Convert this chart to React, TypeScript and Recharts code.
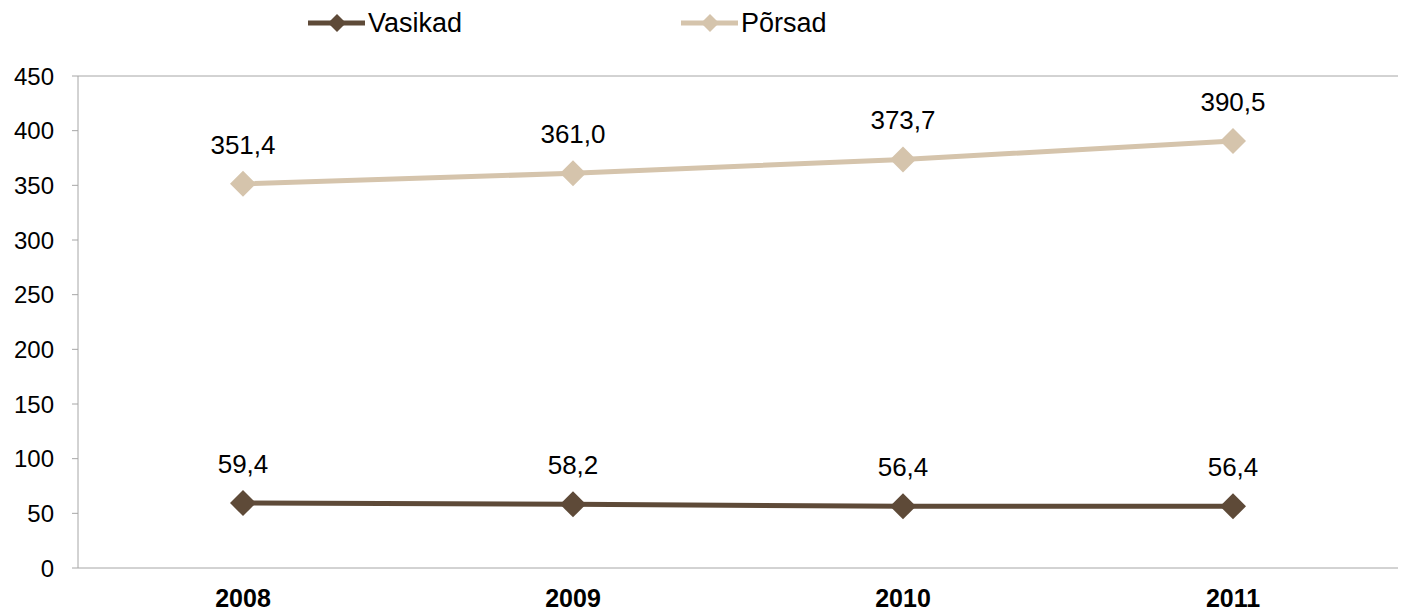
import React from 'react';
import { LineChart, Line, XAxis, YAxis, LabelList, ReferenceLine } from 'recharts';

const years = ['2008', '2009', '2010', '2011'];
const vasikad = [59.4, 58.2, 56.4, 56.4];
const porsad = [351.4, 361.0, 373.7, 390.5];
const yTicks = [0, 50, 100, 150, 200, 250, 300, 350, 400, 450];
const seriesNames = ['Vasikad', 'Põrsad'];

const data = years.map((year, i) => ({ year, Vasikad: vasikad[i], 'Põrsad': porsad[i] }));

const DARK = '#5E4A38';
const LIGHT = '#D5C4AC';
const AXIS = '#A6A6A6';
const FONT = '"Liberation Sans", Arial, sans-serif';
const colors = [DARK, LIGHT];

const Diamond = (color: string) => (props: any) => {
    const { cx, cy } = props;
    if (cx == null || cy == null) return null;
    const r = 13;
    return (
        <polygon
            key={`${cx}-${cy}`}
            points={`${cx},${cy - r} ${cx + r},${cy} ${cx},${cy + r} ${cx - r},${cy}`}
            fill={color}
        />
    );
};

const fmt = (v: any) => Number(v).toFixed(1).replace('.', ',');

// legend drawn by hand, recharts' own legend pushes the plot down
const TopLegend = () => (
    <div style={{ position: 'absolute', top: 8, left: 308, display: 'flex', fontFamily: FONT, fontSize: 27, color: '#000', lineHeight: '30px' }}>
        {seriesNames.map((name, i) => (
            <div key={name} style={{ display: 'flex', alignItems: 'center', width: i === 0 ? 373 : 'auto' }}>
                <svg width={57} height={30}>
                    <line x1={0} y1={15} x2={57} y2={15} stroke={colors[i]} strokeWidth={5} />
                    <polygon points="29,6 38,15 29,24 20,15" fill={colors[i]} />
                </svg>
                <span style={{ marginLeft: 3 }}>{name}</span>
            </div>
        ))}
    </div>
);

export default function App() {
    return (
        <div style={{ position: 'absolute', left: 0, top: 0, width: 1405, height: 613, background: '#fff' }}>
            <TopLegend />
            <LineChart width={1405} height={613} data={data} margin={{ top: 76, right: 7, bottom: 0, left: 0 }}>
                <XAxis
                    dataKey="year"
                    padding={{ left: 165, right: 165 }}
                    axisLine={{ stroke: AXIS }}
                    tickLine={false}
                    tickSize={0}
                    tickMargin={21}
                    height={45}
                    tick={{ fill: '#000', fontSize: 25, fontWeight: 'bold', fontFamily: FONT }}
                />
                <YAxis
                    yAxisId="left"
                    domain={[0, 450]}
                    ticks={yTicks}
                    width={78}
                    axisLine={{ stroke: AXIS }}
                    tickLine={{ stroke: AXIS }}
                    tickSize={6}
                    tickMargin={18}
                    interval={0}
                    tick={{ fill: '#000', fontSize: 24, fontFamily: FONT }}
                />
                <YAxis
                    yAxisId="right"
                    orientation="right"
                    domain={[0, 450]}
                    width={0}
                    tick={false}
                    tickLine={false}
                    axisLine={{ stroke: AXIS }}
                />
                <ReferenceLine yAxisId="left" y={450} stroke={AXIS} />
                <Line
                    yAxisId="left"
                    dataKey="Vasikad"
                    stroke={DARK}
                    strokeWidth={5}
                    dot={Diamond(DARK)}
                    activeDot={false}
                    isAnimationActive={false}
                >
                    <LabelList dataKey="Vasikad" position="top" offset={30} formatter={fmt} fill="#000" fontSize={26} fontFamily={FONT} />
                </Line>
                <Line
                    yAxisId="left"
                    dataKey="Põrsad"
                    stroke={LIGHT}
                    strokeWidth={5}
                    dot={Diamond(LIGHT)}
                    activeDot={false}
                    isAnimationActive={false}
                >
                    <LabelList dataKey="Põrsad" position="top" offset={30} formatter={fmt} fill="#000" fontSize={26} fontFamily={FONT} />
                </Line>
            </LineChart>
        </div>
    );
}
